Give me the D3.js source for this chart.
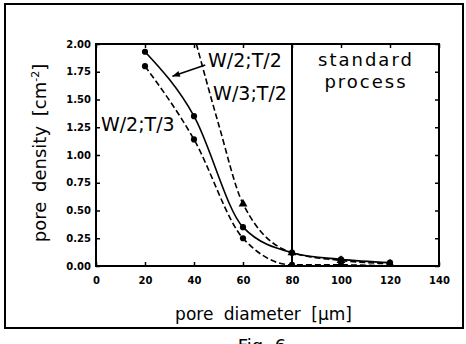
<!DOCTYPE html>
<html>
<head>
<meta charset="utf-8">
<script src="https://cdn.jsdelivr.net/npm/d3@7"></script>
<style>
  body { margin: 0; background: #fff; }
  text { font-family: "DejaVu Sans", sans-serif; fill: #000; }
</style>
</head>
<body>
<div id="chart-area"></div>
<script>
// pore diameter values (um)
const diameters = [20, 40, 60, 80, 100, 120]
// pore density (cm^-2) per series
const w2t2 = [1.93, 1.35, 0.35, 0.12, 0.06, 0.03]
const w2t3 = [1.80, 1.14, 0.25, 0.01, 0.01, 0.00]
const w3t2 = [2.08, 1.28, 0.56, 0.12, 0.05, 0.02]
const w3t2x = [40, 50, 60, 80, 100, 120]
const xTicks = [0, 20, 40, 60, 80, 100, 120, 140]
const yTicks = [0, 0.25, 0.5, 0.75, 1, 1.25, 1.5, 1.75, 2]

const W = 466, H = 344
const MARGIN = { LEFT: 96, RIGHT: 27, TOP: 44, BOTTOM: 78 }
const WIDTH = W - MARGIN.LEFT - MARGIN.RIGHT
const HEIGHT = H - MARGIN.TOP - MARGIN.BOTTOM

const svg = d3.select("#chart-area").append("svg")
  .attr("width", W)
  .attr("height", H)

// outer frame
svg.append("rect")
  .attr("x", 5).attr("y", 4)
  .attr("width", 458).attr("height", 324)
  .attr("fill", "none").attr("stroke", "#000").attr("stroke-width", 2)

// caption, cut by the page edge as in the scan
svg.append("text")
  .attr("x", 262).attr("y", 352)
  .attr("font-size", "18px")
  .attr("text-anchor", "middle")
  .text("Fig. 6")

const g = svg.append("g")
  .attr("transform", `translate(${MARGIN.LEFT}, ${MARGIN.TOP})`)

const x = d3.scaleLinear().domain([0, 140]).range([0, WIDTH])
const y = d3.scaleLinear().domain([0, 2]).range([HEIGHT, 0])

g.append("defs").append("clipPath").attr("id", "clip")
  .append("rect").attr("width", WIDTH).attr("height", HEIGHT)

// axes, ticks pointing inward
g.append("g").attr("transform", `translate(0, ${HEIGHT})`)
  .call(d3.axisBottom(x).tickValues(xTicks).tickSizeInner(-4).tickSizeOuter(0).tickPadding(11))
g.append("g")
  .call(d3.axisLeft(y).tickValues(yTicks).tickSizeInner(-4).tickSizeOuter(0).tickPadding(5)
    .tickFormat(d3.format(".2f")))
g.append("g")
  .call(d3.axisTop(x).tickValues(xTicks).tickSizeInner(-4).tickSizeOuter(0).tickFormat(""))
g.append("g").attr("transform", `translate(${WIDTH}, 0)`)
  .call(d3.axisRight(y).tickValues(yTicks).tickSizeInner(-4).tickSizeOuter(0).tickFormat(""))

g.selectAll(".domain").remove()
g.selectAll(".tick line").attr("stroke-width", 1.5)
g.selectAll(".tick text").attr("font-size", "10px").attr("font-weight", "bold")
  .style("font-family", "DejaVu Sans")

g.append("rect")
  .attr("width", WIDTH).attr("height", HEIGHT)
  .attr("fill", "none").attr("stroke", "#000").attr("stroke-width", 2)

// standard process boundary
g.append("line")
  .attr("x1", x(80)).attr("x2", x(80))
  .attr("y1", 0).attr("y2", HEIGHT)
  .attr("stroke", "#000").attr("stroke-width", 2)

const line = d3.line()
  .x(d => x(d[0]))
  .y(d => y(d[1]))
  .curve(d3.curveMonotoneX)

const series = [
  { xs: diameters, ys: w2t2, dash: null, symbol: d3.symbolCircle },
  { xs: diameters, ys: w2t3, dash: "6,3", symbol: d3.symbolCircle },
  { xs: w3t2x, ys: w3t2, dash: "6,3", symbol: d3.symbolTriangle, skip: [0, 1] }
]

const plot = g.append("g").attr("clip-path", "url(#clip)")

series.forEach(s => {
  const pts = s.xs.map((v, i) => [v, s.ys[i]])
  plot.append("path")
    .attr("d", line(pts))
    .attr("fill", "none")
    .attr("stroke", "#000")
    .attr("stroke-width", 1.6)
    .attr("stroke-dasharray", s.dash)
  plot.selectAll(null)
    .data(pts.filter((d, i) => !(s.skip || []).includes(i)))
    .enter().append("path")
    .attr("transform", d => `translate(${x(d[0])}, ${y(d[1])})`)
    .attr("d", d3.symbol().type(s.symbol).size(s.symbol === d3.symbolCircle ? 30 : 34))
    .attr("fill", "#000")
})

// series labels
const labels = [
  { t: "W/2;T/2", x: 45.7, y: 1.79 },
  { t: "W/3;T/2", x: 47.8, y: 1.50 },
  { t: "W/2;T/3", x: 2.0, y: 1.22 }
]
g.selectAll(".lbl").data(labels).enter().append("text")
  .attr("x", d => x(d.x)).attr("y", d => y(d.y))
  .attr("font-size", "19px")
  .text(d => d.t)

// arrow from label to W/2;T/2 curve
const arrow = { x1: 44.6, y1: 1.81, x2: 31.2, y2: 1.71 }
const ax1 = x(arrow.x1), ay1 = y(arrow.y1), ax2 = x(arrow.x2), ay2 = y(arrow.y2)
g.append("line")
  .attr("x1", ax1).attr("y1", ay1).attr("x2", ax2).attr("y2", ay2)
  .attr("stroke", "#000").attr("stroke-width", 1.6)
const ang = Math.atan2(ay2 - ay1, ax2 - ax1)
const head = [[ax2, ay2],
  [ax2 - 8 * Math.cos(ang - 0.4), ay2 - 8 * Math.sin(ang - 0.4)],
  [ax2 - 8 * Math.cos(ang + 0.4), ay2 - 8 * Math.sin(ang + 0.4)]]
g.append("path").attr("d", "M" + head.join("L") + "Z").attr("fill", "#000")

g.append("text")
  .attr("x", x(110.2)).attr("y", y(1.80))
  .attr("font-size", "18px").attr("letter-spacing", "2px")
  .attr("text-anchor", "middle")
  .text("standard")
g.append("text")
  .attr("x", x(110.2)).attr("y", y(1.60))
  .attr("font-size", "18px").attr("letter-spacing", "2px")
  .attr("text-anchor", "middle")
  .text("process")

// axis titles
g.append("text")
  .attr("x", WIDTH / 2 - 4).attr("y", HEIGHT + 54)
  .attr("font-size", "17px").attr("word-spacing", "5px")
  .attr("text-anchor", "middle")
  .text("pore diameter [\u03bcm]")

const yLabel = g.append("text")
  .attr("transform", "rotate(-90)")
  .attr("x", -HEIGHT / 2 + 2).attr("y", -50)
  .attr("font-size", "18px").attr("word-spacing", "4px")
  .attr("text-anchor", "middle")
yLabel.append("tspan").text("pore density [cm")
yLabel.append("tspan").attr("font-size", "11px").attr("dy", "-7").text("-2")
yLabel.append("tspan").attr("dy", "7").text("]")
</script>
</body>
</html>
